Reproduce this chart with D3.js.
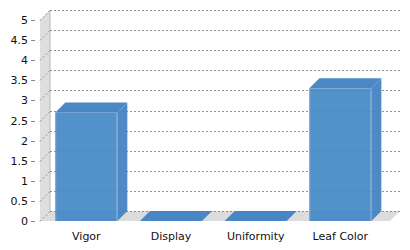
<!DOCTYPE html>
<html><head><meta charset="utf-8">
<script src="https://cdn.jsdelivr.net/npm/d3@7"></script>
<style>body{margin:0;background:#fff}svg{display:block}</style>
</head><body>
<script>
const categories = ["Vigor", "Display", "Uniformity", "Leaf Color"];
const values = [2.7, 0, 0, 3.3];
const yTicks = [0, 0.5, 1, 1.5, 2, 2.5, 3, 3.5, 4, 4.5, 5];

const W = 410, H = 250;
const dx = 10, dy = 10;
const left = 40, right = 390, y0 = 221, y1 = 20;

const svg = d3.select("body").append("svg").attr("width", W).attr("height", H);
const y = d3.scaleLinear().domain([0, 5]).range([y0, y1]);
const x = d3.scaleBand().domain(categories).range([44, 382.7]).paddingInner(0.268).paddingOuter(0.134);

// left wall
svg.append("polygon")
  .attr("points", [[left, y(0)], [left, y(5)], [left + dx, y(5) - dy], [left + dx, y(0) - dy]].join(" "))
  .attr("fill", "#dedede");
svg.append("line").attr("x1", left + dx).attr("x2", left + dx).attr("y1", y(5) - dy).attr("y2", y(0) - dy)
  .attr("stroke", "#b8b8b8").attr("stroke-width", 1);
// floor
svg.append("polygon")
  .attr("points", [[left, y(0)], [right, y(0)], [right + dx, y(0) - dy], [left + dx, y(0) - dy]].join(" "))
  .attr("fill", "#dcdcdc");

// grid lines
const g = svg.append("g");
yTicks.forEach(t => {
  const yy = Math.round(y(t)) + 0.5;
  g.append("line").attr("x1", left).attr("y1", yy).attr("x2", left + dx).attr("y2", yy - dy)
    .attr("stroke", "#777").attr("stroke-dasharray", "2,2").attr("stroke-width", 0.8);
  g.append("line").attr("x1", left + dx).attr("x2", right + dx).attr("y1", yy - dy).attr("y2", yy - dy)
    .attr("stroke", "#777").attr("stroke-dasharray", "2,2").attr("stroke-width", 0.8);
  g.append("line").attr("x1", 31).attr("x2", 35).attr("y1", yy).attr("y2", yy).attr("stroke", "#888");
  svg.append("text").attr("x", 28).attr("y", yy).attr("dy", "0.35em").attr("text-anchor", "end")
    .attr("font-family", "DejaVu Sans").attr("font-size", 11).attr("fill", "#111").text(d3.format("")(t));
});

// bars
categories.forEach((c, i) => {
  const bx = x(c), bw = x.bandwidth(), top = y(values[i]), bot = y(0);
  const bg = svg.append("g").attr("opacity", 0.93);
  if (values[i] > 0) {
    bg.append("rect").attr("x", bx).attr("y", top).attr("width", bw).attr("height", bot - top)
      .attr("fill", "#4689c8");
    bg.append("polygon").attr("points", [[bx + bw, top], [bx + bw + dx, top - dy], [bx + bw + dx, bot - dy], [bx + bw, bot]].join(" "))
      .attr("fill", "#4282c2");
    bg.append("line").attr("x1", bx + bw - 0.5).attr("x2", bx + bw - 0.5).attr("y1", top).attr("y2", bot)
      .attr("stroke", "#7aaedc").attr("stroke-width", 1);
    bg.append("line").attr("x1", bx + 0.5).attr("x2", bx + 0.5).attr("y1", top).attr("y2", bot)
      .attr("stroke", "#6ea3d6").attr("stroke-width", 1);
  }
  bg.append("polygon").attr("points", [[bx, top], [bx + dx, top - dy], [bx + bw + dx, top - dy], [bx + bw, top]].join(" "))
    .attr("fill", "#3d7fc2");
  svg.append("text").attr("x", bx + bw / 2).attr("y", 240).attr("text-anchor", "middle")
    .attr("font-family", "DejaVu Sans").attr("font-size", 11).attr("fill", "#111").text(c);
});
</script>
</body></html>
